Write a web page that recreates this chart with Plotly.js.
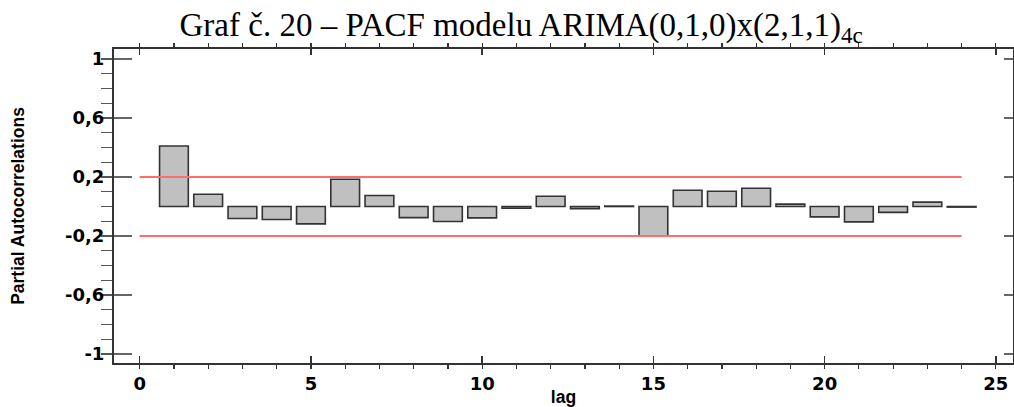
<!DOCTYPE html>
<html>
<head>
<meta charset="utf-8">
<script src="https://cdn.plot.ly/plotly-3.0.1.min.js"></script>
<style>html,body{margin:0;padding:0;background:#fff;}#chart{width:1014px;height:407px;}</style>
</head>
<body>
<div id="chart"></div>
<script>
// Data
const lags = [1,2,3,4,5,6,7,8,9,10,11,12,13,14,15,16,17,18,19,20,21,22,23,24];
const pacf = [0.41,0.083,-0.081,-0.088,-0.118,0.185,0.075,-0.075,-0.102,-0.077,-0.012,0.07,-0.014,0.003,-0.199,0.11,0.104,0.124,0.016,-0.07,-0.104,-0.04,0.03,-0.004];
const limitX = [0, 24];
const upperLimit = [0.2, 0.2];
const lowerLimit = [-0.2, -0.2];
const yTickVals = [1, 0.6, 0.2, -0.2, -0.6, -1];
const yTickText = ['1', '0,6', '0,2', '-0,2', '-0,6', '-1'];
const xTickVals = [0, 5, 10, 15, 20, 25];
const xTickText = ['0', '5', '10', '15', '20', '25'];

const bold = s => '<b>' + s + '</b>';
const tickFont = {family: 'DejaVu Sans', size: 18, color: '#000'};
const titleFont = {family: 'Liberation Sans, Arial', size: 17.5, color: '#000'};

const traces = [
  {
    type: 'bar', x: lags, y: pacf, width: 0.84,
    marker: {color: '#c0c0c0', line: {color: '#333333', width: 1.6}},
    showlegend: false, hoverinfo: 'x+y'
  },
  {
    type: 'scatter', mode: 'lines', x: limitX, y: upperLimit,
    line: {color: 'rgb(255,110,110)', width: 2}, showlegend: false
  },
  {
    type: 'scatter', mode: 'lines', x: limitX, y: lowerLimit,
    line: {color: 'rgb(255,110,110)', width: 2}, showlegend: false
  },
  {
    type: 'scatter', mode: 'markers', x: [], y: [], xaxis: 'x2', yaxis: 'y2',
    showlegend: false, hoverinfo: 'skip'
  }
];

const xRange = [-0.75, 25.5];
const yRange = [-1.061, 1.068];

const layout = {
  width: 1014, height: 407,
  margin: {l: 114, r: 1, t: 49, b: 44, pad: 0},
  paper_bgcolor: '#ffffff', plot_bgcolor: '#ffffff',
  bargap: 0,
  title: {
    text: 'Graf č. 20 – PACF modelu ARIMA(0,1,0)x(2,1,1)<sub>4c</sub>',
    font: {family: 'Liberation Serif, Times New Roman', size: 33, color: '#000'},
    x: 0.514, xanchor: 'center', xref: 'container',
    y: 0.94, yanchor: 'middle', yref: 'container'
  },
  xaxis: {
    range: xRange, showgrid: false, zeroline: false,
    showline: true, linecolor: '#333333', linewidth: 2, mirror: true,
    ticks: 'inside', ticklen: 7, tickwidth: 1.5, tickcolor: '#333333',
    tickmode: 'array', tickvals: xTickVals, ticktext: xTickText.map(bold),
    tickfont: tickFont, ticklabelstandoff: 3,
    minor: {tickmode: 'linear', tick0: 0, dtick: 1, ticklen: 4, tickwidth: 1.2, tickcolor: '#333333', showgrid: false},
    title: {text: bold('lag'), font: titleFont, standoff: 5},
    automargin: false, fixedrange: true
  },
  yaxis: {
    range: yRange, showgrid: false, zeroline: false,
    showline: true, linecolor: '#333333', linewidth: 2, mirror: true,
    ticks: 'inside', ticklen: 18, tickwidth: 1.5, tickcolor: '#666666',
    tickmode: 'array', tickvals: yTickVals, ticktext: yTickText.map(bold),
    tickfont: tickFont, ticklabelstandoff: 4,
    minor: {tickmode: 'linear', tick0: 0, dtick: 0.1, ticklen: 11, tickwidth: 1.2, tickcolor: '#555555', showgrid: false},
    title: {text: bold('Partial Autocorrelations'), font: titleFont, standoff: 36},
    automargin: false, fixedrange: true
  },
  xaxis2: {
    overlaying: 'x', side: 'top', range: xRange,
    showgrid: false, zeroline: false, showline: false,
    ticks: 'inside', ticklen: 6, tickwidth: 1.5, tickcolor: '#333333',
    tickmode: 'array', tickvals: xTickVals, showticklabels: false,
    minor: {tickmode: 'linear', tick0: 0, dtick: 1, ticklen: 5, tickwidth: 1.2, tickcolor: '#333333', showgrid: false},
    fixedrange: true
  },
  yaxis2: {
    overlaying: 'y', side: 'right', range: yRange,
    showgrid: false, zeroline: false, showline: false,
    ticks: 'inside', ticklen: 9, tickwidth: 1.5, tickcolor: '#666666',
    tickmode: 'array', tickvals: yTickVals, showticklabels: false,
    minor: {tickmode: 'linear', tick0: 0, dtick: 0.1, ticklen: 3, tickwidth: 1.2, tickcolor: '#555555', showgrid: false},
    fixedrange: true
  }
};

Plotly.newPlot('chart', traces, layout, {displayModeBar: false, staticPlot: true});
</script>
</body>
</html>
